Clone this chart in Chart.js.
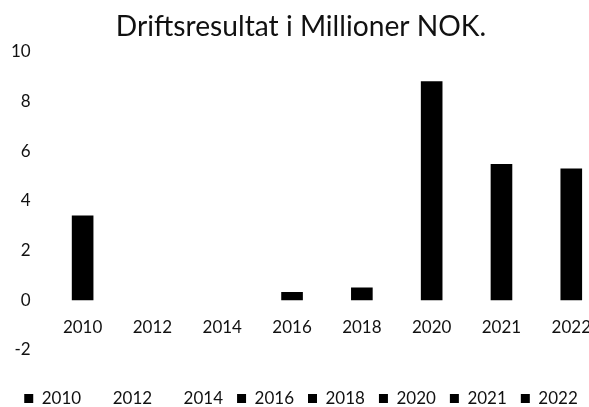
<!DOCTYPE html>
<html>
<head>
<meta charset="utf-8">
<script src="https://cdn.jsdelivr.net/npm/chart.js@4.4.0/dist/chart.umd.min.js"></script>
<style>
  html, body { margin: 0; padding: 0; background: #fff; overflow: hidden; }
  #wrap { width: 608px; height: 407px; position: relative; }
</style>
</head>
<body>
<div id="wrap"><canvas id="c"></canvas></div>
<script>
const titleText = "Driftsresultat i Millioner NOK.";
const categories = ["2010", "2012", "2014", "2016", "2018", "2020", "2021", "2022"];
const values = [3.41, 0, 0, 0.33, 0.52, 8.82, 5.49, 5.30];
const barColors = ["#000000", "#ffffff", "#ffffff", "#000000", "#000000", "#000000", "#000000", "#000000"];
const yTicks = [-2, 0, 2, 4, 6, 8, 10];

const FONT = "Lato, 'Open Sans', sans-serif";
const LEGEND_SHIFT = 26;

const legendShift = {
  id: 'legendShift',
  afterLayout(chart) {
    const lg = chart.legend;
    if (lg) { lg.top += LEGEND_SHIFT; lg.bottom += LEGEND_SHIFT; }
  }
};

new Chart(document.getElementById('c'), {
  type: 'bar',
  data: {
    labels: categories,
    datasets: [{
      data: values,
      backgroundColor: barColors,
      borderWidth: 0,
      barPercentage: 0.62,
      categoryPercentage: 0.5
    }]
  },
  plugins: [legendShift],
  options: {
    responsive: true,
    maintainAspectRatio: false,
    animation: false,
    layout: { padding: { left: -6, right: 0, top: 4, bottom: 16 } },
    plugins: {
      title: {
        display: true,
        text: titleText,
        color: '#111',
        font: { family: FONT, size: 28.2, weight: 'normal' },
        padding: { top: 6, bottom: 8 }
      },
      legend: {
        display: true,
        position: 'bottom',
        labels: {
          color: '#111',
          font: { family: FONT, size: 17 },
          boxWidth: 9,
          boxHeight: 9,
          padding: 14,
          generateLabels: function(chart) {
            return categories.map((c, i) => ({
              text: c,
              fillStyle: barColors[i],
              strokeStyle: barColors[i],
              lineWidth: 0,
              hidden: false,
              index: i,
              fontColor: '#111'
            }));
          }
        },
        onClick: function() {}
      },
      tooltip: { enabled: false }
    },
    scales: {
      x: {
        position: { y: 0 },
        grid: { display: false, drawTicks: false },
        border: { display: false },
        ticks: { color: '#111', font: { family: FONT, size: 17 }, padding: 17, maxRotation: 0 }
      },
      y: {
        min: -2,
        max: 10,
        afterBuildTicks: function(scale) { scale.ticks = yTicks.map(v => ({ value: v })); },
        grid: { display: false, drawTicks: false },
        border: { display: false },
        ticks: { color: '#111', font: { family: FONT, size: 17 }, padding: 17 }
      }
    }
  }
});
</script>
</body>
</html>
